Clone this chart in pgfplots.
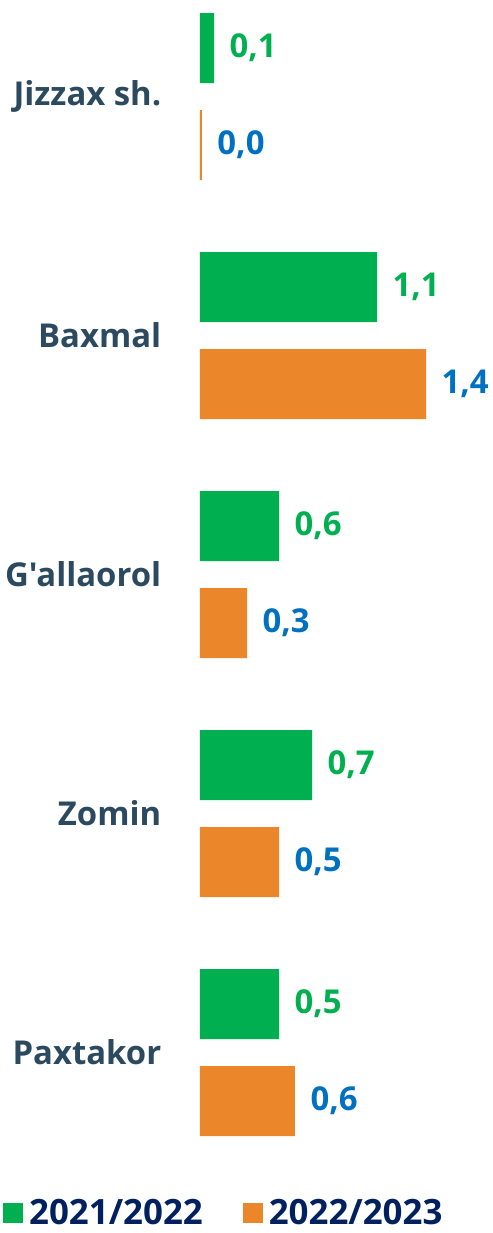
\documentclass[border=0pt]{standalone}
\usepackage{pgfplots}
\usepackage{pgfplotstable}
\pgfplotsset{compat=1.18}
\usepackage{fontspec}
\setmainfont{Open Sans}[Ligatures=TeXOff]
\definecolor{cgreen}{HTML}{00B050}
\definecolor{corange}{HTML}{EB862B}
\definecolor{cblue}{HTML}{0070C0}
\definecolor{ccat}{HTML}{2C4A5F}
\definecolor{cleg}{HTML}{002060}
\pgfplotstableread{
y a la b lb
0 0.087 {0,1} 0.012 {0,0}
1 1.100 {1,1} 1.404 {1,4}
2 0.491 {0,6} 0.292 {0,3}
3 0.696 {0,7} 0.491 {0,5}
4 0.491 {0,5} 0.590 {0,6}
}\data
\begin{document}
\begin{tikzpicture}
\begin{axis}[
  name=ax,
  xbar,
  x=161bp, y=239bp,
  y dir=reverse,
  xmin=0, xmax=1.8199,
  ymin=-0.4038, ymax=4.408,
  axis line style={draw=none},
  tick style={draw=none},
  xtick=\empty,
  clip=false,
  bar width=70bp,
  ytick={0,1,2,3,4},
  yticklabels={Jizzax sh.,Baxmal,G'allaorol,Zomin,Paxtakor},
  yticklabel style={font=\fontsize{33}{36}\selectfont\bfseries, text=ccat, anchor=east, xshift=-31bp},
  point meta=explicit symbolic,
  nodes near coords,
  nodes near coords style={anchor=west, xshift=12bp, font=\fontsize{33}{36}\selectfont\bfseries},
  legend style={at={(axis description cs:0,0)}, anchor=north west, xshift=-200bp, yshift=-45bp, draw=none, fill=none,
    legend columns=2, font=\fontsize{35}{38}\selectfont\bfseries, text=cleg,
    /tikz/every odd column/.append style={column sep=0bp},
    /tikz/every even column/.append style={column sep=38bp}},
  legend image code/.code={\fill[#1] (0bp,-10bp) rectangle (20bp,10bp);},
]
\addplot[fill=cgreen, draw=none, bar shift=48.5bp, nodes near coords style={text=cgreen}] table[x=a, y=y, meta=la] {\data};
\addplot[fill=corange, draw=none, bar shift=-48.5bp, nodes near coords style={text=cblue}] table[x=b, y=y, meta=lb] {\data};
\legend{\hspace{4bp}2021/2022, \hspace{4bp}2022/2023}
\end{axis}
\pgfresetboundingbox
\path ([xshift=-200bp]ax.north west) rectangle ([yshift=-1233bp]ax.north east);
\end{tikzpicture}
\end{document}
